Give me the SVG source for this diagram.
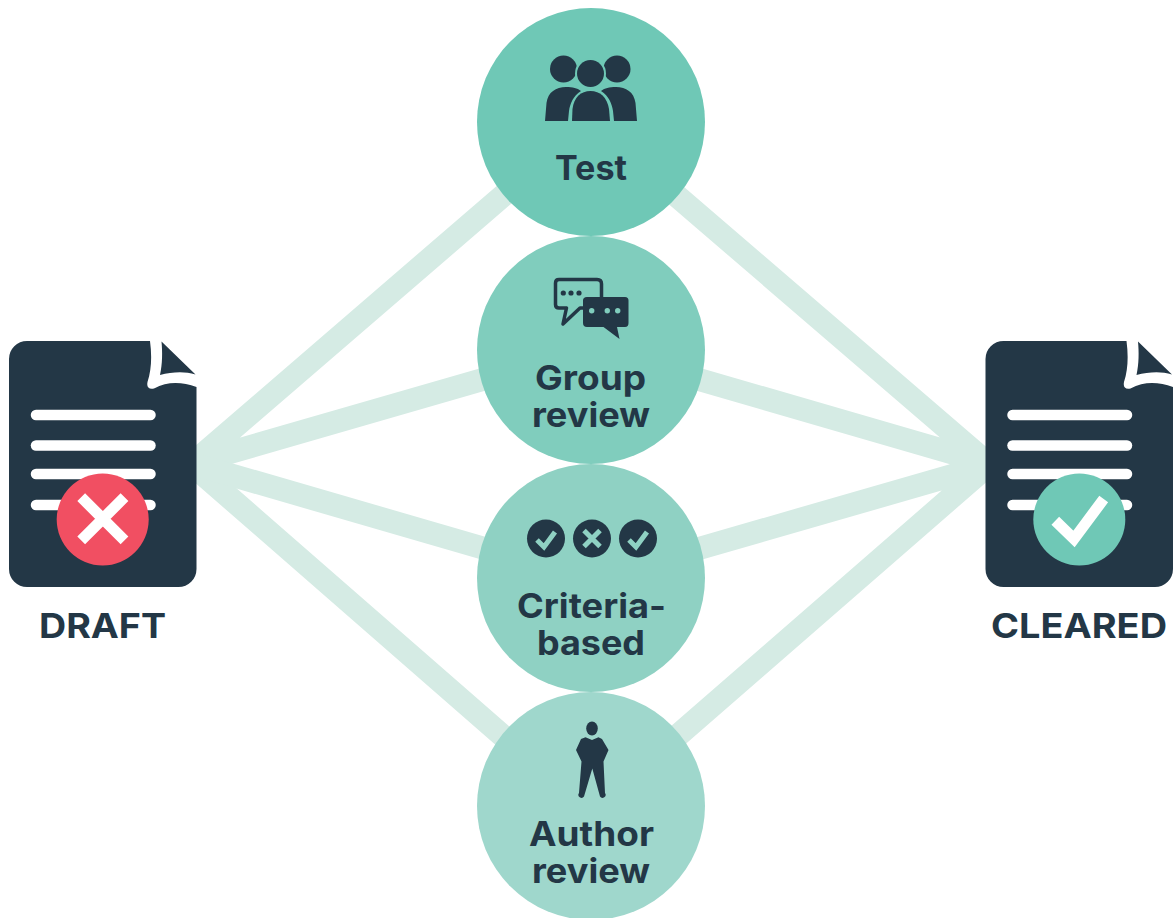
<svg xmlns="http://www.w3.org/2000/svg" width="1176" height="918" viewBox="0 0 1176 918">
<style>
.ink{fill:#233746}
.lbl{font-family:"Inter","Liberation Sans",sans-serif;font-weight:700;font-size:34px;fill:#233746;text-anchor:middle}
.line{stroke:#d5ebe4;stroke-width:23;fill:none}
.bar{stroke:#fff;stroke-width:10.5;stroke-linecap:round}
</style>
<defs>
<g id="doc">
<path class="ink" d="M27 341H150C152 356 151.500 370 147.500 382Q146 390 154 388.500C168 381 182 382 196.500 387V569A18 18 0 0 1 178.500 587H27A18 18 0 0 1 9 569V359A18 18 0 0 1 27 341Z"/>
<path class="ink" d="M161.500 341.500L195.500 374.500C184 371 172 372 160 375C162.500 364 162.500 352 161.500 341.500Z"/>
<line class="bar" x1="36" y1="415" x2="150.500" y2="415"/>
<line class="bar" x1="36" y1="445.500" x2="150.500" y2="445.500"/>
<line class="bar" x1="36" y1="474" x2="150.500" y2="474"/>
<line class="bar" x1="36" y1="505" x2="150.500" y2="505"/>
</g>
</defs>
<g id="connectors">
<path class="line" d="M190 465.500L520 181M190 464L500 374.500M190 463L520 751"/>
<path class="line" d="M190 463L500 553"/>
<path class="line" d="M992 467L660 181.500M992 464.500L680 374M992 462L660 751M992 464L680 554"/>
</g>
<g id="node-test">
<circle cx="591" cy="122" r="114" fill="#6fc8b6"/>
<circle class="ink" cx="563.500" cy="69" r="13.500"/><circle class="ink" cx="617" cy="69" r="13.500"/>
<path class="ink" d="M545 121L546.500 103C548 92 556 87 566 87C573 87 577 88 581 91C573 96 570 104 569 111L568 121Z"/>
<path class="ink" d="M637 121L635.500 103C634 92 626 87 616 87C609 87 605 88 601 91C609 96 612 104 613 111L614 121Z"/>
<circle fill="#6fc8b6" cx="590.500" cy="73.500" r="15.500"/>
<circle class="ink" cx="590.500" cy="73.500" r="13.500"/>
<path class="ink" d="M572 121L572.500 109C574 97 581 91 590.500 91C600 91 607 97 609 109L610 121Z"/>
<text class="lbl" x="591" y="180" textLength="72" lengthAdjust="spacingAndGlyphs">Test</text>
</g>
<g id="node-group-review">
<circle cx="591" cy="350" r="114" fill="#80cdbd"/>
<path d="M559 279.500H597Q601.500 279.500 601.500 284V300H588V308H580L563 324L566.500 308H559Q555.500 308 555.500 304.500V283Q555.500 279.500 559 279.500Z" fill="none" stroke="#233746" stroke-width="3.500" stroke-linejoin="round"/>
<circle class="ink" cx="563.300" cy="293" r="2.600"/><circle class="ink" cx="571" cy="293" r="2.600"/><circle class="ink" cx="579" cy="293" r="2.600"/>
<path class="ink" d="M587 297H625Q628.500 297 628.500 300.500V323Q628.500 327 625 327H617L619.500 339L603.500 327H587Q583 327 583 323V300.500Q583 297 587 297Z"/>
<circle fill="#80cdbd" cx="591.700" cy="310.700" r="2.700"/><circle fill="#80cdbd" cx="607.300" cy="310.700" r="2.700"/><circle fill="#80cdbd" cx="617.700" cy="310.700" r="2.700"/>
<text class="lbl" x="590.500" y="390" textLength="111" lengthAdjust="spacingAndGlyphs">Group</text>
<text class="lbl" x="591" y="427" textLength="118" lengthAdjust="spacingAndGlyphs">review</text>
</g>
<g id="node-criteria">
<circle cx="591" cy="578" r="114" fill="#8fd1c3"/>
<circle class="ink" cx="546" cy="538.500" r="19"/><circle class="ink" cx="592" cy="538.500" r="19"/><circle class="ink" cx="638" cy="538.500" r="19"/>
<path d="M537 540L544 547L555 532M629 540L636 547L647 532" fill="none" stroke="#8fd1c3" stroke-width="5"/>
<path d="M584 530.500L600 546.500M600 530.500L584 546.500" fill="none" stroke="#8fd1c3" stroke-width="5"/>
<text class="lbl" x="591.500" y="618" textLength="149" lengthAdjust="spacingAndGlyphs">Criteria-</text>
<text class="lbl" x="591" y="655" textLength="108" lengthAdjust="spacingAndGlyphs">based</text>
</g>
<g id="node-author">
<circle cx="591" cy="806" r="114" fill="#9fd7cc"/>
<ellipse class="ink" cx="592" cy="728.500" rx="5.800" ry="7"/>
<path class="ink" d="M585.500 737.300L592 740L598.500 737.300L602 739L608.500 750L603.500 761.500L605 793A2.800 2.800 0 0 1 600 796.500L592.300 768.500L584 796.500A2.800 2.800 0 0 1 579 793L581.500 761.500L576 750L581 739Z"/>
<text class="lbl" x="591.500" y="846" textLength="125" lengthAdjust="spacingAndGlyphs">Author</text>
<text class="lbl" x="591" y="883" textLength="118" lengthAdjust="spacingAndGlyphs">review</text>
</g>
<g id="node-draft">
<use href="#doc"/>
<circle cx="102.700" cy="519.500" r="46" fill="#f14f62"/>
<path d="M81.200 497.200L124.500 540.300M124.500 497.200L81.200 540.300" stroke="#fff" stroke-width="11" fill="none"/>
<text class="lbl" x="102.500" y="638" textLength="127" lengthAdjust="spacingAndGlyphs">DRAFT</text>
</g>
<g id="node-cleared">
<use href="#doc" x="976.500"/>
<circle cx="1079.300" cy="519.500" r="46" fill="#6fc8b6"/>
<path d="M1055.300 520.700L1074 539L1103.700 499" stroke="#fff" stroke-width="11" fill="none"/>
<text class="lbl" x="1079" y="638" textLength="176" lengthAdjust="spacingAndGlyphs">CLEARED</text>
</g>
</svg>
